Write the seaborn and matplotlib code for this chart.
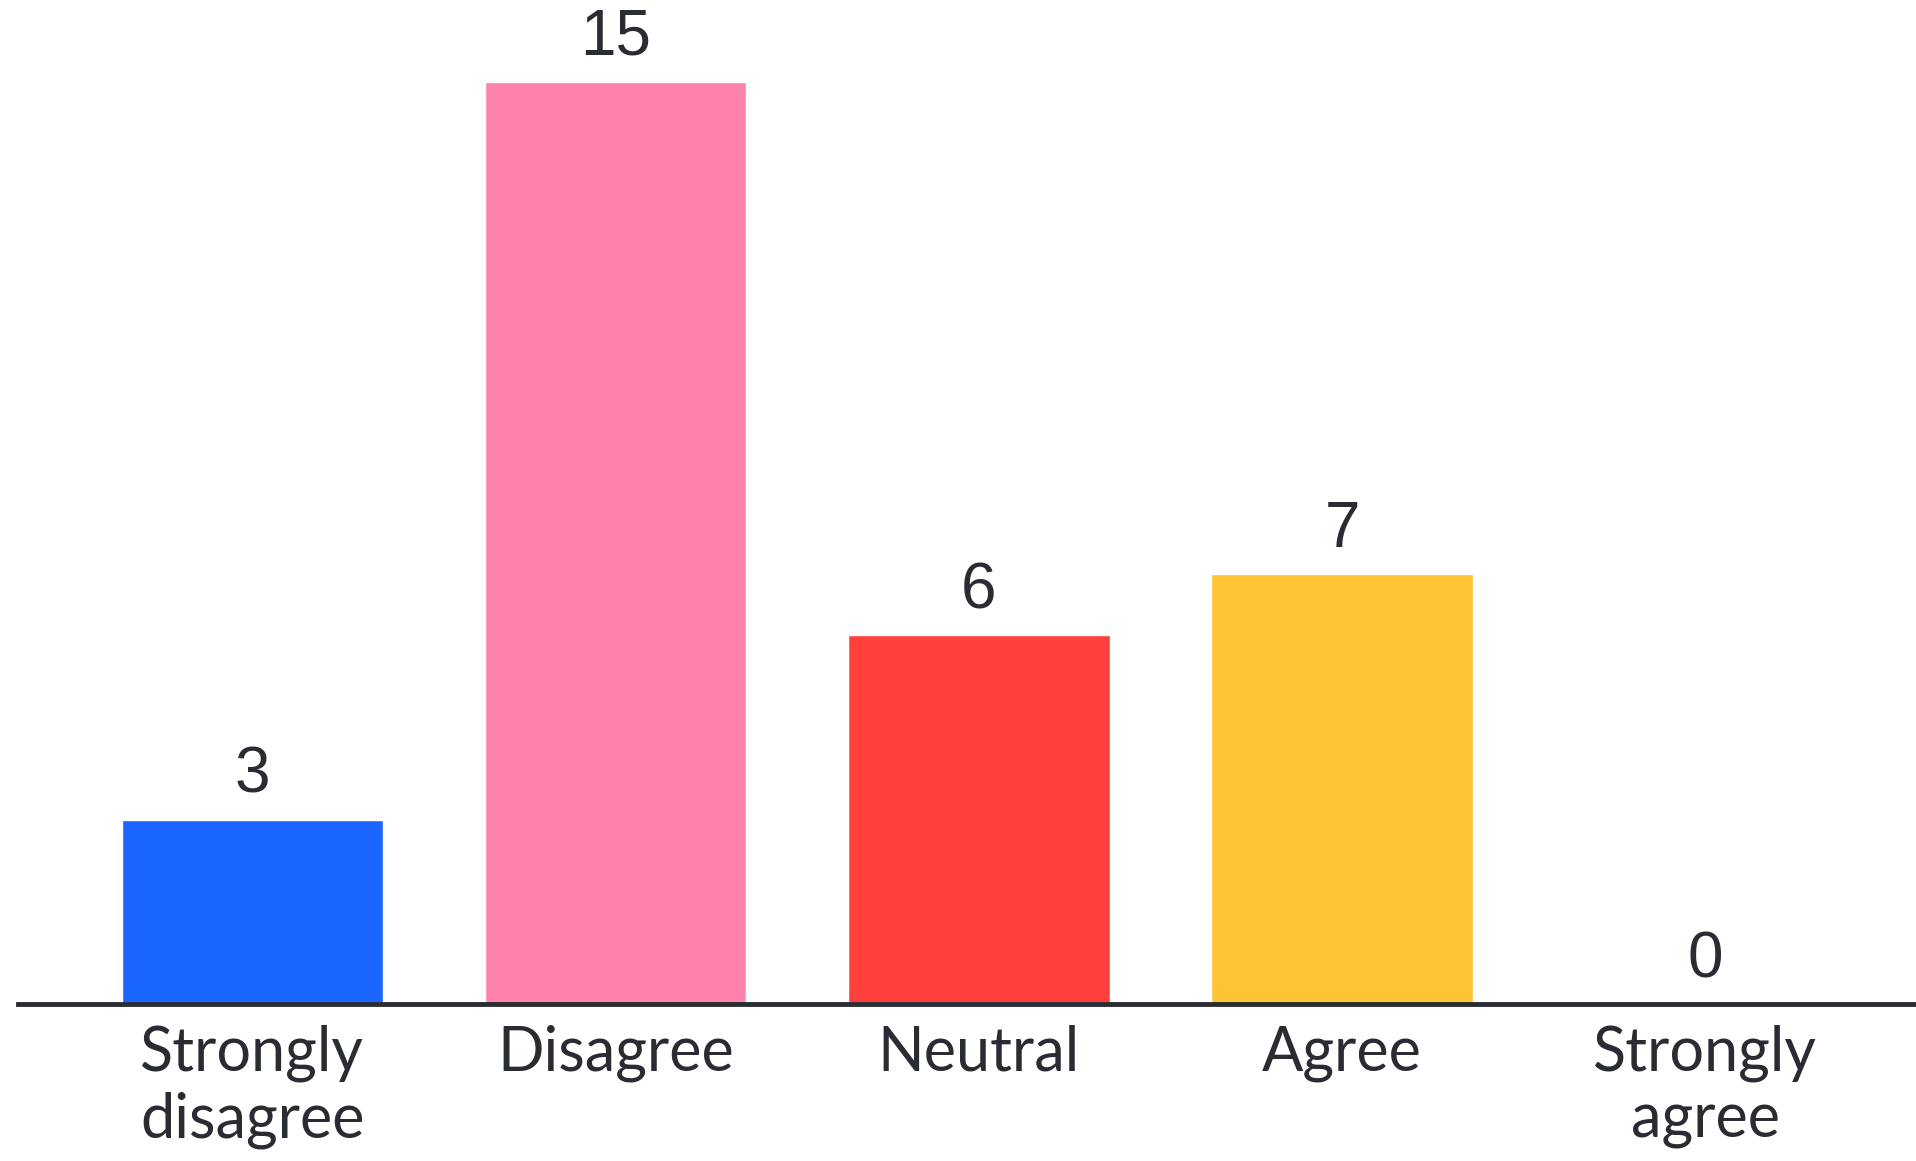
import pandas as pd
import matplotlib.pyplot as plt
import seaborn as sns

categories = ['Strongly\ndisagree', 'Disagree', 'Neutral', 'Agree', 'Strongly\nagree']
counts = [3, 15, 6, 7, 0]
colors = ['#1A66FF', '#FF82AB', '#FF403D', '#FFC436', '#B0B0B0']

df = pd.DataFrame({'Response': categories, 'Count': counts})

sns.set_style('white')
plt.rcParams['font.family'] = ['Lato', 'DejaVu Sans']

fig = plt.figure(figsize=(19.16, 11.61), dpi=100)
ax = fig.add_axes([18 / 1916, 157 / 1161, 1 - 18 / 1916, 1 - 157 / 1161])

sns.barplot(data=df, x='Response', y='Count', hue='Response', palette=colors,
            legend=False, width=0.72, saturation=1, ax=ax)

for c in ax.containers:
    ax.bar_label(c, padding=10, fontsize=46, color='#2A2C33', family='Liberation Sans')

ax.set_xlim(-0.645, 4.58)
ax.set_ylim(0, 16.33)
ax.set_xlabel('')
ax.set_ylabel('')
ax.set_yticks([])
ax.tick_params(axis='x', length=0, pad=15, labelsize=44, labelcolor='#2A2C33')
for lbl in ax.get_xticklabels():
    lbl.set_linespacing(1.2)

for side in ['top', 'right', 'left']:
    ax.spines[side].set_visible(False)
ax.spines['bottom'].set_color('#2B2D33')
ax.spines['bottom'].set_linewidth(3.5)

fig.savefig('out.png', dpi=100, facecolor='white')
